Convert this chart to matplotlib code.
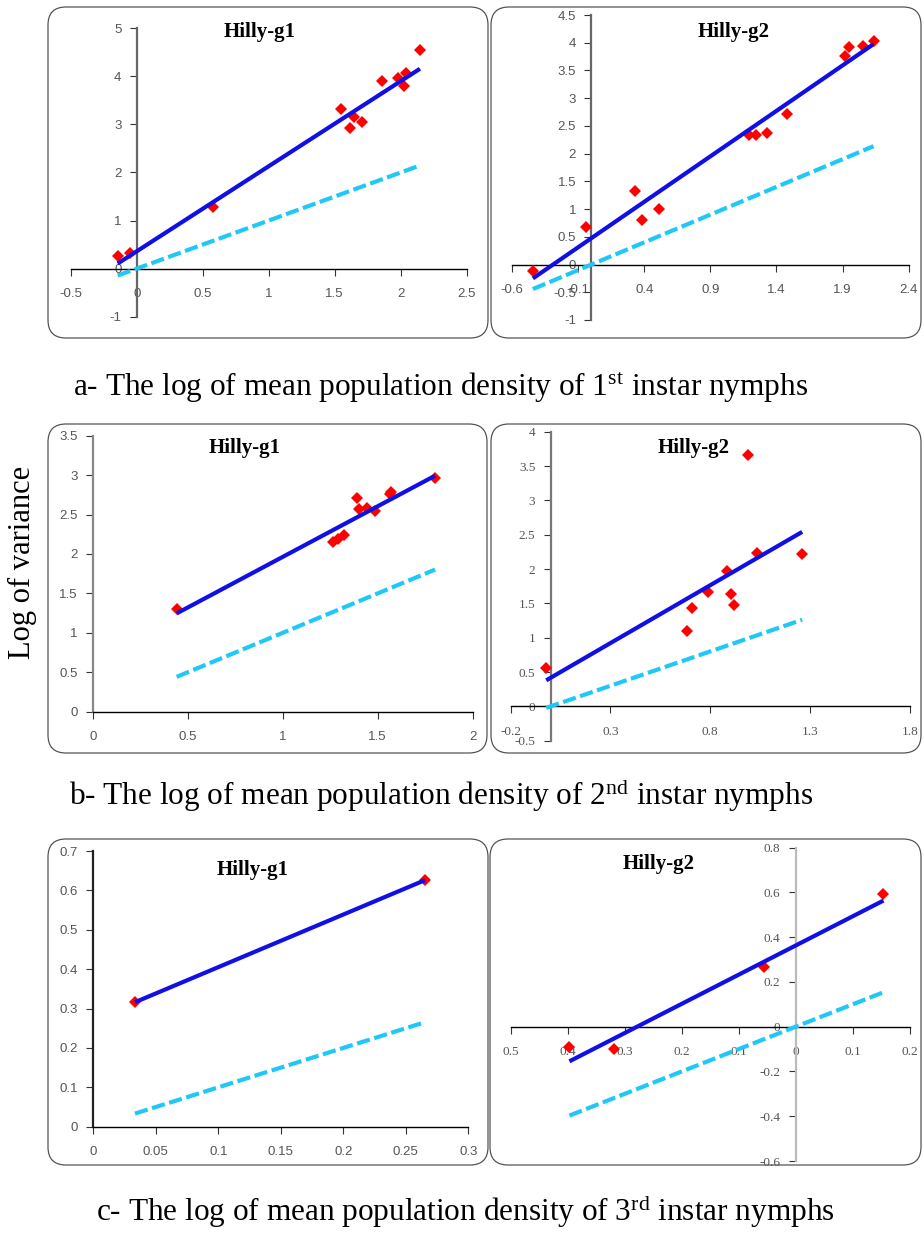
import numpy as np
import matplotlib
matplotlib.use('Agg')
import matplotlib.pyplot as plt
from matplotlib.patches import FancyBboxPatch

plt.rcParams['mathtext.fontset'] = 'custom'
plt.rcParams['mathtext.rm'] = 'Liberation Serif'
plt.rcParams['mathtext.it'] = 'Liberation Serif:italic'

W, H = 924, 1240

# ---- 数据 ----
# a: 1st instar
a1_x = [-0.144, -0.05, 0.576, 1.548, 1.616, 1.646, 1.705, 1.861, 1.977, 2.038, 2.028, 2.146]
a1_y = [0.26, 0.32, 1.28, 3.32, 2.93, 3.15, 3.06, 3.90, 3.97, 4.08, 3.80, 4.54]
a1_fit = (1.77, 0.36)   # slope, intercept
a2_x = [-0.442, -0.043, 0.331, 0.384, 0.508, 1.194, 1.242, 1.326, 1.48, 1.92, 1.95, 2.058, 2.134]
a2_y = [-0.11, 0.685, 1.32, 0.81, 1.00, 2.33, 2.33, 2.37, 2.72, 3.76, 3.93, 3.94, 4.04]
a2_fit = (1.64, 0.475)
# b: 2nd instar
b1_x = [0.442, 1.267, 1.289, 1.323, 1.393, 1.402, 1.442, 1.486, 1.565, 1.570, 1.802]
b1_y = [1.30, 2.15, 2.185, 2.236, 2.71, 2.57, 2.58, 2.54, 2.76, 2.78, 2.96]
b1_fit = (1.284, 0.679)
b2_x = [-0.022, 0.684, 0.707, 0.788, 0.885, 0.906, 0.920, 0.988, 1.037, 1.261]
b2_y = [0.558, 1.10, 1.43, 1.67, 1.97, 1.64, 1.47, 3.655, 2.23, 2.22]
b2_fit = (1.685, 0.416)
# c: 3rd instar
c1_x = [0.0333, 0.2653]
c1_y = [0.316, 0.626]
c1_fit = (1.336, 0.2715)
c2_x = [-0.397, -0.318, -0.055, 0.154]
c2_y = [-0.091, -0.10, 0.265, 0.593]
c2_fit = (1.304, 0.363)

# 刻度
a1_xt = [-0.5, 0, 0.5, 1, 1.5, 2, 2.5]
a1_xl = ['-0.5', '0', '0.5', '1', '1.5', '2', '2.5']
a1_yt = [-1, 0, 1, 2, 3, 4, 5]
a1_yl = ['-1', '0', '1', '2', '3', '4', '5']
a2_xt = [-0.6, -0.1, 0.4, 0.9, 1.4, 1.9, 2.4]
a2_xl = ['-0.6', '-0.1', '0.4', '0.9', '1.4', '1.9', '2.4']
a2_yt = [-1, -0.5, 0, 0.5, 1, 1.5, 2, 2.5, 3, 3.5, 4, 4.5]
a2_yl = ['-1', '-0.5', '0', '0.5', '1', '1.5', '2', '2.5', '3', '3.5', '4', '4.5']
b1_xt = [0, 0.5, 1, 1.5, 2]
b1_xl = ['0', '0.5', '1', '1.5', '2']
b1_yt = [0, 0.5, 1, 1.5, 2, 2.5, 3, 3.5]
b1_yl = ['0', '0.5', '1', '1.5', '2', '2.5', '3', '3.5']
b2_xt = [-0.2, 0.3, 0.8, 1.3, 1.8]
b2_xl = ['-0.2', '0.3', '0.8', '1.3', '1.8']
b2_yt = [-0.5, 0, 0.5, 1, 1.5, 2, 2.5, 3, 3.5, 4]
b2_yl = ['-0.5', '0', '0.5', '1', '1.5', '2', '2.5', '3', '3.5', '4']
c1_xt = [0, 0.05, 0.1, 0.15, 0.2, 0.25, 0.3]
c1_xl = ['0', '0.05', '0.1', '0.15', '0.2', '0.25', '0.3']
c1_yt = [0, 0.1, 0.2, 0.3, 0.4, 0.5, 0.6, 0.7]
c1_yl = ['0', '0.1', '0.2', '0.3', '0.4', '0.5', '0.6', '0.7']
c2_xt = [-0.5, -0.4, -0.3, -0.2, -0.1, 0, 0.1, 0.2]
c2_xl = ['0.5', '0.4', '0.3', '0.2', '0.1', '0', '0.1', '0.2']
c2_yt = [-0.6, -0.4, -0.2, 0, 0.2, 0.4, 0.6, 0.8]
c2_yl = ['-0.6', '-0.4', '-0.2', '0', '0.2', '0.4', '0.6', '0.8']

captions = [r'a- The log of mean population density of 1$^{\rm st}$ instar nymphs',
            r'b- The log of mean population density of 2$^{\rm nd}$ instar nymphs',
            r'c- The log of mean population density of 3$^{\rm rd}$ instar nymphs']

fig = plt.figure(figsize=(W / 100, H / 100), dpi=100)
fig.patch.set_facecolor('white')

# 背景层，用像素坐标画圆角框和文字
bg = fig.add_axes([0, 0, 1, 1], zorder=-1)
bg.set_xlim(0, W)
bg.set_ylim(H, 0)
bg.axis('off')

boxes = [(48, 7, 488, 338), (491, 7, 921, 338),
         (48, 424, 487, 753), (491, 424, 921, 753),
         (48, 839, 488, 1165), (490, 839, 921, 1165)]
for l, t, r, b in boxes:
    bg.add_patch(FancyBboxPatch((l, t), r - l, b - t,
                                boxstyle='round,pad=0,rounding_size=18',
                                fc='none', ec='#555555', lw=0.9))


def px_rect(l, t, r, b):
    return [l / W, 1 - b / H, (r - l) / W, (b - t) / H]


def panel(rect, x, y, fit, xlim, ylim, xt, xl, yt, yl, font, ycol):
    ax = fig.add_axes(px_rect(*rect))
    ax.set_facecolor('none')
    ax.set_xlim(xlim)
    ax.set_ylim(ylim)
    ax.spines['top'].set_visible(False)
    ax.spines['right'].set_visible(False)
    ax.spines['left'].set_position(('data', 0))
    ax.spines['bottom'].set_position(('data', 0))
    ax.spines['left'].set_color(ycol)
    ax.spines['left'].set_linewidth(1.6)
    ax.spines['bottom'].set_color('black')
    ax.spines['bottom'].set_linewidth(1.0)
    ax.set_xticks(xt)
    ax.set_xticklabels(xl, fontfamily=font, fontsize=9.5, color='#555555')
    ax.set_yticks(yt)
    ax.set_yticklabels(yl, fontfamily=font, fontsize=9.5, color='#555555')
    ax.tick_params(axis='x', direction='out', length=5, width=0.8, pad=9, color='#333333')
    ax.tick_params(axis='y', direction='out', length=5, width=0.8, pad=6, color='#333333')
    x = np.array(x)
    y = np.array(y)
    ax.plot(x, y, 'D', color='red', ms=6, mew=0, zorder=3)
    xs = np.array([x.min(), x.max()])
    # 参考线 y = x
    ax.plot(xs, xs, color='#20c8f8', lw=3, ls=(0, (3.2, 1.1)), zorder=4)
    # 回归线
    ax.plot(xs, fit[0] * xs + fit[1], color='#1010e6', lw=3, zorder=5,
            solid_capstyle='butt')
    return ax


sans = 'Liberation Sans'
serif = 'Liberation Serif'
panel((70.7, 28.3, 466.7, 316.7), a1_x, a1_y, a1_fit, (-0.5, 2.5), (-1, 5),
      a1_xt, a1_xl, a1_yt, a1_yl, sans, '#666666')
panel((512, 15, 908.7, 320), a2_x, a2_y, a2_fit, (-0.6, 2.4), (-1, 4.5),
      a2_xt, a2_xl, a2_yt, a2_yl, sans, '#666666')
panel((92.7, 435.7, 472.7, 711.7), b1_x, b1_y, b1_fit, (0, 2), (0, 3.5),
      b1_xt, b1_xl, b1_yt, b1_yl, sans, '#888888')
panel((510.7, 431.7, 909.7, 740.7), b2_x, b2_y, b2_fit, (-0.2, 1.8), (-0.5, 4),
      b2_xt, b2_xl, b2_yt, b2_yl, serif, '#777777')
panel((93.3, 851, 468.3, 1126.7), c1_x, c1_y, c1_fit, (0, 0.3), (0, 0.7),
      c1_xt, c1_xl, c1_yt, c1_yl, sans, '#222222')
panel((510.7, 847.7, 909.7, 1161), c2_x, c2_y, c2_fit, (-0.5, 0.2), (-0.6, 0.8),
      c2_xt, c2_xl, c2_yt, c2_yl, serif, '#bbbbbb')

# 子图标题
titles = [(260, 32, 'Hilly-g1'), (734, 32, 'Hilly-g2'),
          (245, 448, 'Hilly-g1'), (694, 448, 'Hilly-g2'),
          (253, 870, 'Hilly-g1'), (659, 864, 'Hilly-g2')]
for tx, ty, s in titles:
    bg.text(tx, ty, s, ha='center', va='center', fontfamily=serif,
            fontweight='bold', fontsize=15)

# 图注
for cx, cy, s in zip([441, 441, 465], [388, 795, 1211], captions):
    bg.text(cx, cy, s, ha='center', va='center', fontfamily=serif, fontsize=22.5)

bg.text(22, 562, 'Log of variance', rotation=90, ha='center', va='center',
        fontfamily=serif, fontsize=22)

fig.savefig('out.png', dpi=100)
